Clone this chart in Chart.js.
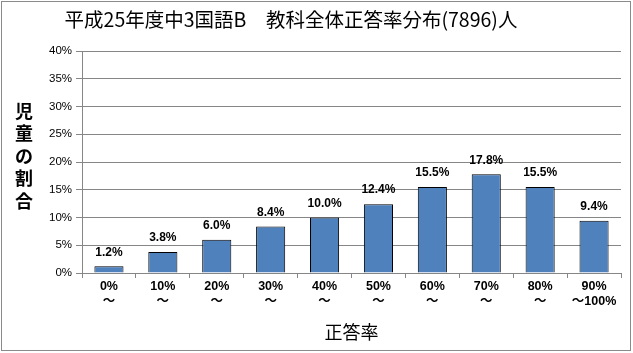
<!DOCTYPE html>
<html>
<head>
<meta charset="utf-8">
<script src="https://cdn.jsdelivr.net/npm/chart.js@4"></script>
<style>
  body { margin: 0; background: #fff; }
  #wrap { width: 633px; height: 353px; }
</style>
</head>
<body>
<div id="wrap"><canvas id="chart" width="633" height="353"></canvas></div>
<script>
// Data
const chartTitle = "平成25年度中3国語B　教科全体正答率分布(7896)人";
const categories = [["0%", "～"], ["10%", "～"], ["20%", "～"], ["30%", "～"], ["40%", "～"],
                    ["50%", "～"], ["60%", "～"], ["70%", "～"], ["80%", "～"], ["90%", "～100%"]];
const shares = [1.2, 3.8, 6.0, 8.4, 10.0, 12.4, 15.5, 17.8, 15.5, 9.4];
const yTitleChars = ["児", "童", "の", "割", "合"];

const FONT = "'Liberation Sans', 'Noto Sans CJK JP', sans-serif";
const JFONT = "'Noto Sans CJK JP', sans-serif";

// title, value labels, vertical y title, outer border
const extras = {
    id: "extras",
    afterDatasetsDraw(chart) {
        const c = chart.ctx;
        const meta = chart.getDatasetMeta(0);
        c.save();
        c.fillStyle = "#000";
        c.textAlign = "center";
        c.textBaseline = "middle";
        c.font = "19.5px " + JFONT;
        c.fillText(chartTitle, 291, 20);
        c.font = "bold 12px " + FONT;
        c.textBaseline = "bottom";
        meta.data.forEach((bar, i) => {
            c.fillText(shares[i].toFixed(1) + "%", bar.x, bar.y - 8);
        });
        c.font = "bold 18px " + JFONT;
        c.textBaseline = "middle";
        yTitleChars.forEach((ch, i) => c.fillText(ch, 24, 111 + i * 22.5));
        c.strokeStyle = "#8a8a8a";
        c.lineWidth = 1;
        c.strokeRect(1.5, 1.5, 629, 349);
        c.restore();
    }
};

new Chart(document.getElementById("chart"), {
    type: "bar",
    data: {
        labels: categories,
        datasets: [{
            data: shares,
            backgroundColor: "#4F81BD",
            borderColor: "#000",
            borderWidth: 1,
            categoryPercentage: 1,
            barPercentage: 0.54
        }]
    },
    options: {
        responsive: false,
        devicePixelRatio: 1,
        animation: false,
        layout: { padding: { left: 45, right: 12, top: 51, bottom: 10 } },
        plugins: {
            legend: { display: false },
            tooltip: { enabled: false },
            title: { display: false }
        },
        scales: {
            x: {
                grid: { display: true, drawOnChartArea: false, offset: true, tickLength: 5, color: "#868686" },
                border: { color: "#868686" },
                ticks: { color: "#000", font: { family: FONT, size: 12.5, weight: "bold" }, padding: 1, maxRotation: 0 },
                title: {
                    display: true,
                    text: "正答率",
                    color: "#000",
                    font: { family: JFONT, size: 18, weight: "normal" },
                    padding: { top: 6, bottom: 0 }
                },
                afterFit(scale) { scale.height = 70; }
            },
            y: {
                min: 0,
                max: 40,
                ticks: {
                    stepSize: 5,
                    color: "#000",
                    font: { family: FONT, size: 11.5 },
                    padding: 4,
                    callback: v => v + "%"
                },
                grid: { color: "#868686", tickLength: 6 },
                border: { color: "#868686" },
                afterFit(scale) { scale.width = 37; }
            }
        }
    },
    plugins: [extras]
});
</script>
</body>
</html>
